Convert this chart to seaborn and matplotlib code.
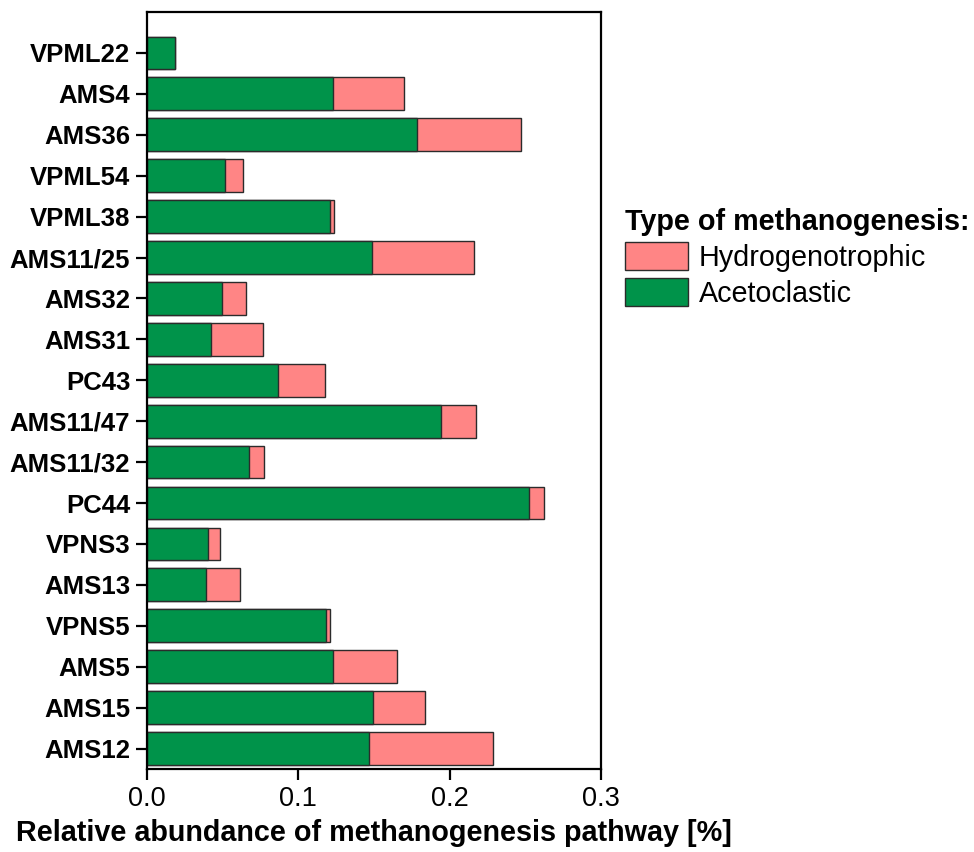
import matplotlib
matplotlib.use("Agg")
import matplotlib.pyplot as plt
from matplotlib.patches import Patch
import numpy as np
import pandas as pd
import seaborn as sns

samples = ["VPML22", "AMS4", "AMS36", "VPML54", "VPML38", "AMS11/25", "AMS32", "AMS31",
           "PC43", "AMS11/47", "AMS11/32", "PC44", "VPNS3", "AMS13", "VPNS5", "AMS5",
           "AMS15", "AMS12"]
acetoclastic = [0.0183, 0.1232, 0.1781, 0.0518, 0.1211, 0.1486, 0.0494, 0.0426, 0.0868,
                0.1941, 0.0672, 0.2524, 0.0403, 0.0392, 0.1180, 0.1232, 0.1491, 0.1465]
hydrogenotrophic = [0.0, 0.0463, 0.0688, 0.0115, 0.0024, 0.0677, 0.0163, 0.0340, 0.0309,
                    0.0235, 0.0100, 0.0097, 0.0081, 0.0223, 0.0031, 0.0421, 0.0348, 0.0821]

GREEN = "#00934A"
PINK = "#FF8585"
EDGE = "#2b2b2b"

df = pd.DataFrame({"sample": samples, "aceto": acetoclastic, "hydro": hydrogenotrophic})
df["total"] = df["aceto"] + df["hydro"]

sns.set_style("ticks")
plt.rcParams["font.family"] = ["Liberation Sans", "DejaVu Sans"]
plt.rcParams.update({"text.color": "black", "axes.labelcolor": "black",
                     "xtick.color": "black", "ytick.color": "black"})

fig = plt.figure(figsize=(9.74, 8.52), dpi=100)
ax = fig.add_axes([147 / 974, 1 - 769 / 852, 454 / 974, 757 / 852])

# stacked bars: total in pink, acetoclastic part on top in green
sns.barplot(data=df, x="total", y="sample", orient="y", color=PINK, width=0.8,
            edgecolor=EDGE, linewidth=1.0, saturation=1, errorbar=None, ax=ax)
sns.barplot(data=df, x="aceto", y="sample", orient="y", color=GREEN, width=0.8,
            edgecolor=EDGE, linewidth=1.0, saturation=1, errorbar=None, ax=ax)

ax.set_xlim(0, 0.3)
ax.set_ylim(len(samples) - 0.5, -1.0)
ax.set_xticks([0.0, 0.1, 0.2, 0.3])
ax.set_xticklabels(["0.0", "0.1", "0.2", "0.3"])
ax.set_ylabel("")
ax.set_xlabel("Relative abundance of methanogenesis pathway [%]",
              fontsize=20.7, fontweight="bold", labelpad=5)

for side in ["top", "right", "left", "bottom"]:
    ax.spines[side].set_visible(True)
    ax.spines[side].set_color("black")
    ax.spines[side].set_linewidth(1.6)

ax.tick_params(axis="x", length=8, width=1.6, labelsize=19.5, pad=4)
ax.tick_params(axis="y", length=8, width=1.6, labelsize=18.5, pad=4)
for lab in ax.get_yticklabels():
    lab.set_fontweight("bold")

handles = [Patch(facecolor=PINK, edgecolor=EDGE, linewidth=1.0, label="Hydrogenotrophic"),
           Patch(facecolor=GREEN, edgecolor=EDGE, linewidth=1.0, label="Acetoclastic")]
leg = fig.legend(handles=handles, title="Type of methanogenesis:", loc="upper left",
                 bbox_to_anchor=(625 / 974, 1 - 208 / 852), frameon=False,
                 fontsize=20.7, title_fontproperties={"weight": "bold", "size": 20.7},
                 handlelength=2.2, handleheight=1.12, handletextpad=0.36,
                 labelspacing=0.22, borderpad=0, borderaxespad=0, alignment="left")

fig.savefig("out.png", dpi=100)
